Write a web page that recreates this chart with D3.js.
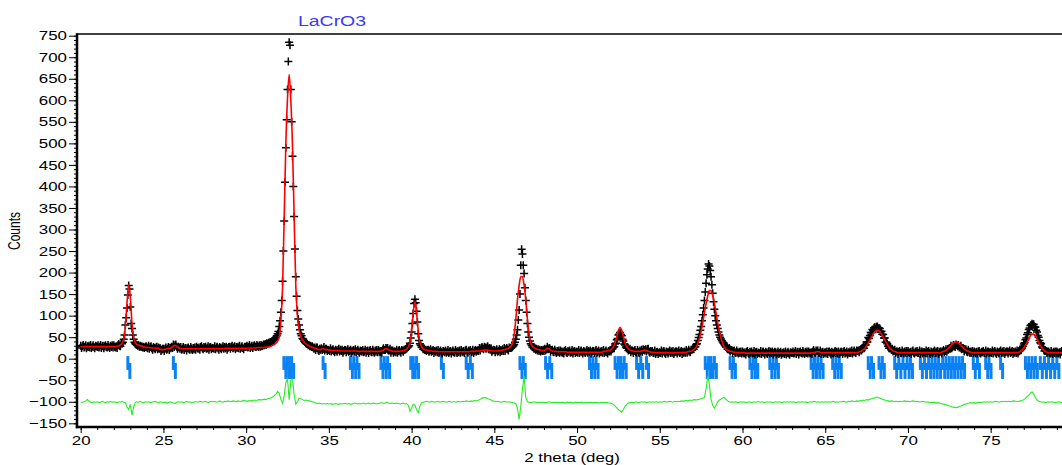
<!DOCTYPE html>
<html lang="en">
<head>
<meta charset="UTF-8">
<title>LaCrO3</title>
<script src="https://d3js.org/d3.v7.min.js"></script>
<style>
  body { margin: 0; background: #fff; }
  text { font-family: "Liberation Sans", Arial, sans-serif; fill: #000; }
</style>
</head>
<body>
<svg width="1062" height="465"></svg>
<script>
// observed counts, 2theta = 20.00 + 0.05*i  (one row = one degree)
const obsStart = 20, obsStep = 0.05;
const obsCounts = [
  30,25,29,32,26,28,31,24,29,27,30,26,32,25,28,31,27,24,30,29,
  27,31,26,28,32,25,29,30,24,29,31,27,26,32,28,25,30,27,31,26,
  31,28,26,29,25,31,34,30,29,36,35,38,45,55,78,95,118,148,170,162,
  120,82,70,55,45,38,35,33,32,30,31,28,30,27,29,26,28,25,27,29,
  26,24,30,23,27,29,24,21,27,25,22,26,28,22,26,23,25,18,21,23,
  23,18,23,26,21,23,27,20,25,24,28,25,33,27,31,33,28,23,28,26,
  23,27,21,23,27,20,24,25,19,24,26,22,21,27,23,20,25,22,26,21,
  28,25,23,26,21,27,29,24,22,27,25,28,23,24,29,21,26,27,22,25,
  25,23,29,22,26,28,24,21,27,25,22,26,29,23,27,24,28,21,25,27,
  28,23,27,30,24,26,29,22,27,25,28,24,30,23,26,29,25,22,28,27,
  28,30,26,27,32,25,28,30,25,29,31,28,27,32,29,27,31,28,32,29,
  30,33,31,34,32,36,34,37,36,39,38,40,41,43,44,47,50,53,58,63,
  75,88,108,135,180,250,320,410,490,555,625,690,735,728,625,550,470,400,330,255,
  190,145,112,92,78,67,58,53,47,45,41,39,36,35,34,31,32,29,30,27,
  29,26,23,26,20,26,26,21,18,23,21,24,20,22,27,19,23,23,18,21,
  20,18,24,17,20,22,18,15,21,19,16,20,23,17,21,18,21,14,18,20,
  20,15,19,22,16,18,21,14,19,17,20,16,22,15,18,21,17,14,19,18,
  16,20,15,17,21,14,18,19,13,18,20,16,15,21,17,14,19,16,20,15,
  20,17,15,18,14,21,24,20,20,25,23,25,19,19,23,14,19,19,14,17,
  17,15,21,14,18,20,17,14,20,19,16,21,21,22,24,26,28,30,36,48,
  62,82,105,128,138,130,110,85,58,42,35,31,27,26,22,23,20,21,18,20,
  21,16,19,22,16,18,20,13,18,16,19,15,20,13,16,19,15,12,18,17,
  15,19,14,16,20,13,17,18,12,17,19,15,14,20,16,13,18,15,19,14,
  20,17,15,18,13,19,21,16,14,19,17,20,15,16,21,13,18,20,16,19,
  19,18,25,19,24,27,24,22,28,26,23,26,29,22,25,21,24,16,19,21,
  20,15,19,22,16,18,22,15,20,18,22,18,25,18,22,25,22,19,26,25,
  25,26,28,30,33,38,45,55,67,90,113,150,217,254,243,217,198,165,135,108,
  82,62,50,41,35,31,27,26,23,24,21,23,19,22,18,21,17,20,18,21,
  18,23,19,22,28,22,24,24,16,20,21,16,15,21,17,13,18,15,19,14,
  19,16,14,17,12,18,20,15,13,18,16,19,14,15,20,12,17,18,13,16,
  16,14,20,13,17,19,15,12,18,16,13,17,20,14,18,15,19,12,16,18,
  18,13,17,20,14,16,19,12,17,15,18,14,20,13,16,19,15,12,18,17,
  19,17,22,23,27,28,34,36,44,47,55,57,61,56,53,45,41,34,32,27,
  24,26,19,20,23,15,19,19,13,18,20,15,14,20,16,13,19,16,21,16,
  22,20,19,22,17,22,23,17,14,18,16,18,13,14,19,11,15,16,11,14,
  15,13,19,12,16,18,14,11,17,15,12,16,19,13,17,14,18,11,15,17,
  17,12,16,19,13,15,18,11,16,14,17,14,20,14,17,21,17,15,21,21,
  23,22,27,28,33,35,42,49,56,66,75,88,102,118,135,155,175,195,208,220,
  215,205,190,172,152,132,115,100,88,78,70,62,55,50,46,42,39,36,33,30,
  27,29,22,22,25,17,20,20,13,18,19,15,13,19,15,12,16,13,17,12,
  17,14,12,15,10,16,18,13,11,16,14,17,12,13,18,10,15,16,11,14,
  14,12,18,11,15,17,13,10,16,14,11,15,18,12,16,13,17,10,14,16,
  15,10,14,17,11,13,16,9,14,12,15,11,17,10,13,16,12,9,15,14,
  13,17,12,14,18,11,15,16,10,15,17,13,12,18,14,11,16,13,17,12,
  17,14,12,15,11,17,20,15,14,19,17,19,14,14,19,11,15,16,11,14,
  15,12,17,11,16,17,14,10,16,13,12,15,18,13,16,12,17,11,14,16,
  16,11,15,18,12,14,17,10,15,13,17,13,19,12,16,19,15,13,19,18,
  19,15,19,22,19,23,28,24,31,32,39,39,49,47,54,61,61,68,66,72,
  73,69,74,75,69,71,70,62,64,57,56,48,48,38,38,35,29,24,27,24,
  20,23,17,18,21,13,17,17,11,16,18,14,13,19,15,12,17,14,18,13,
  18,15,13,16,11,17,19,14,12,17,15,18,13,14,19,11,16,17,12,15,
  15,13,19,12,16,18,14,11,17,15,12,16,19,13,17,14,18,11,15,17,
  17,12,17,20,15,18,22,16,22,21,25,23,30,24,28,32,29,27,33,32,
  29,32,26,27,30,22,24,24,17,21,22,17,15,21,16,13,17,14,18,13,
  17,15,12,16,12,17,18,14,12,16,15,18,14,13,19,12,16,17,13,15,
  15,13,19,12,16,18,14,11,17,15,12,16,19,13,17,14,18,11,15,17,
  17,12,16,19,13,15,18,11,16,14,17,13,19,12,17,18,20,22,25,29,
  34,37,44,48,56,60,68,71,77,78,81,79,80,75,73,66,62,54,50,42,
  37,35,27,25,24,18,19,18,13,16,17,14,12,18,14,11,16,13,17,12,
  17,14,12,15,10,16,18,13,11,16,14,17,12,13,18,10,15,16,11,14
];

// calculated profile, 2theta = 20.0 + 0.1*i
const calcStart = 20, calcStep = 0.1;
const calcCounts = [
  28,28,28,28,28,28,28,28,28,28,
  28,28,28,28,28,28,28,28,28,28,
  28,28,29,30,32,36,46,74,131,172,
  142,82,49,37,33,31,30,29,28,27,
  26,26,26,25,25,25,24,24,22,21,
  21,22,23,24,24,26,29,31,29,26,
  24,23,23,23,23,23,23,23,23,23,
  23,23,23,23,23,23,23,23,23,23,
  23,23,23,23,23,23,23,24,24,24,
  24,24,24,24,24,24,24,24,24,24,
  24,24,25,25,25,25,25,26,26,26,
  26,26,27,27,28,29,31,33,36,41,
  50,88,165,330,500,605,660,600,495,330,
  170,100,68,52,44,39,35,32,30,28,
  26,25,24,22,21,21,23,23,21,21,
  20,20,19,19,19,19,19,18,18,18,
  18,18,18,18,18,18,18,18,17,17,
  17,17,17,17,17,17,17,17,17,17,
  17,17,18,20,23,23,21,19,18,17,
  17,17,17,18,18,19,20,22,28,39,
  66,107,133,107,66,39,28,23,21,20,
  19,18,18,17,17,17,16,16,16,16,
  16,16,16,16,16,16,16,16,16,16,
  16,16,16,16,16,16,17,17,17,18,
  18,18,19,19,20,20,20,19,19,18,
  18,18,18,19,19,20,21,22,23,25,
  29,37,57,92,137,170,191,191,170,137,
  92,57,37,29,25,23,22,21,20,19,
  19,21,24,23,20,18,17,17,16,16,
  16,16,16,16,15,15,15,15,15,15,
  15,15,15,15,15,15,15,15,15,15,
  15,15,15,15,15,15,17,17,18,19,
  20,23,28,37,51,66,73,66,51,37,
  28,23,20,19,18,17,17,17,17,18,
  19,20,19,17,16,15,15,15,14,14,
  14,14,14,14,14,14,14,14,14,14,
  14,14,14,14,14,14,15,16,17,18,
  20,22,27,36,48,64,84,107,128,146,
  158,158,146,128,107,84,64,48,36,27,
  22,20,18,17,16,15,15,14,14,14,
  14,14,13,13,13,13,13,13,13,13,
  13,13,13,13,13,13,13,13,13,13,
  13,13,13,13,13,13,13,13,13,13,
  13,13,13,13,13,13,13,13,13,13,
  13,13,14,14,15,16,16,15,14,14,
  14,14,14,14,14,14,14,14,14,14,
  14,14,14,14,14,14,14,14,14,14,
  15,17,18,21,24,30,36,43,50,57,
  63,66,66,63,57,50,43,36,30,24,
  21,18,17,15,14,14,14,14,14,14,
  14,14,14,14,14,14,14,14,14,14,
  14,14,14,14,14,14,14,14,14,14,
  15,16,18,20,23,27,31,35,38,39,
  38,35,31,27,23,20,18,16,15,14,
  14,14,14,14,14,14,14,14,14,14,
  14,14,14,14,14,14,14,14,14,14,
  14,14,14,14,14,14,14,15,17,20,
  25,31,38,46,53,57,57,53,46,38,
  31,25,20,17,15,14,14,14,14,14,
  14,14,14,14,13,13,13,13,13,13
];

// difference curve as plotted (offset to -100), same grid as calcCounts
const diffCounts = [
  -101,-101,-100,-98,-95,-99,-101,-102,-100,-101,
  -100,-102,-101,-99,-101,-102,-100,-101,-99,-101,
  -100,-101,-102,-100,-101,-99,-101,-102,-112,-118,
  -106,-131,-112,-102,-100,-101,-99,-101,-102,-100,
  -101,-100,-102,-101,-100,-99,-101,-102,-100,-101,
  -102,-101,-103,-102,-100,-101,-103,-104,-101,-100,
  -101,-100,-102,-101,-99,-101,-100,-102,-101,-100,
  -100,-101,-99,-100,-101,-99,-100,-102,-100,-99,
  -100,-99,-101,-100,-98,-100,-101,-99,-100,-98,
  -99,-100,-98,-99,-100,-98,-99,-100,-97,-98,
  -98,-99,-97,-98,-97,-96,-97,-96,-95,-96,
  -95,-94,-95,-93,-92,-91,-89,-86,-82,-76,
  -80,-95,-104,-85,-55,-47,-95,-50,-48,-82,
  -106,-100,-92,-93,-95,-97,-96,-97,-98,-99,
  -100,-101,-103,-104,-103,-104,-105,-104,-105,-104,
  -105,-104,-106,-105,-104,-105,-106,-104,-105,-104,
  -104,-105,-104,-106,-105,-104,-103,-105,-104,-105,
  -104,-103,-105,-104,-103,-105,-104,-103,-104,-105,
  -104,-103,-102,-104,-103,-101,-103,-104,-103,-104,
  -104,-103,-104,-105,-104,-103,-105,-104,-108,-122,
  -115,-106,-108,-118,-126,-110,-102,-101,-100,-99,
  -100,-101,-99,-100,-101,-100,-99,-101,-100,-99,
  -100,-101,-100,-99,-101,-100,-100,-101,-99,-100,
  -100,-99,-100,-98,-99,-100,-98,-99,-97,-98,
  -97,-95,-93,-91,-90,-91,-93,-94,-96,-98,
  -99,-100,-99,-100,-101,-100,-99,-100,-101,-100,
  -101,-102,-103,-105,-115,-141,-110,-70,-40,-90,
  -100,-101,-102,-101,-100,-101,-102,-101,-102,-101,
  -102,-101,-102,-100,-101,-102,-101,-102,-101,-102,
  -102,-101,-102,-103,-101,-102,-101,-102,-103,-101,
  -102,-101,-102,-101,-103,-102,-101,-102,-101,-102,
  -102,-101,-102,-103,-102,-101,-102,-101,-102,-103,
  -103,-104,-106,-110,-114,-118,-121,-124,-118,-111,
  -106,-103,-102,-101,-102,-101,-100,-102,-101,-100,
  -101,-100,-102,-101,-100,-101,-100,-101,-100,-101,
  -100,-101,-100,-99,-101,-100,-99,-100,-101,-99,
  -100,-99,-100,-98,-99,-98,-97,-98,-96,-97,
  -96,-95,-96,-95,-94,-93,-92,-90,-70,-40,
  -60,-95,-108,-115,-108,-100,-96,-94,-91,-90,
  -94,-98,-100,-101,-100,-101,-100,-102,-101,-100,
  -101,-100,-102,-101,-100,-101,-102,-100,-101,-100,
  -100,-101,-100,-102,-101,-100,-101,-100,-102,-101,
  -100,-101,-100,-101,-102,-100,-101,-100,-101,-100,
  -101,-100,-102,-101,-100,-101,-100,-101,-100,-102,
  -101,-100,-101,-99,-100,-101,-100,-101,-100,-101,
  -100,-101,-100,-101,-100,-99,-101,-100,-101,-100,
  -100,-99,-100,-101,-99,-100,-98,-99,-100,-98,
  -99,-97,-98,-96,-97,-95,-96,-94,-93,-92,
  -91,-89,-90,-92,-93,-95,-96,-97,-98,-99,
  -98,-99,-100,-99,-100,-99,-100,-99,-98,-99,
  -99,-100,-99,-98,-99,-100,-99,-101,-100,-99,
  -100,-101,-100,-102,-101,-102,-101,-103,-102,-103,
  -104,-105,-106,-107,-108,-110,-111,-112,-113,-114,
  -113,-111,-110,-108,-106,-105,-104,-103,-102,-103,
  -102,-103,-102,-101,-102,-101,-100,-101,-100,-101,
  -100,-101,-100,-99,-100,-101,-100,-99,-100,-99,
  -100,-99,-100,-99,-98,-99,-100,-99,-98,-97,
  -95,-92,-88,-85,-80,-77,-82,-90,-96,-99,
  -100,-101,-100,-102,-101,-100,-101,-100,-101,-102,
  -101,-100,-101,-102,-100,-101,-100,-101,-102,-101
];

// Bragg reflection positions (2theta)
const braggPeaks = [
  22.85, 25.6, 32.28, 32.45, 32.6, 32.75, 34.65, 36.3, 36.5, 36.7,
  38.15, 38.35, 38.55, 39.95, 40.1, 40.3, 41.8, 43.3, 43.55, 46.55,
  46.75, 48.1, 48.35, 50.75, 50.95, 51.15, 52.3, 52.5, 52.65, 52.85,
  53.6, 53.85, 54.2, 57.75, 57.95, 58.1, 58.3, 59.25, 59.45, 60.45,
  60.65, 60.8, 61.65, 61.85, 62.05, 64.15, 64.35, 64.55, 64.75, 65.45,
  65.65, 65.85, 67.6, 67.8, 68.25, 68.45, 69.2, 69.45, 69.7, 69.95,
  70.15, 70.75, 71.0, 71.25, 71.45, 71.65, 71.85, 72.1, 72.3, 72.5,
  72.7, 72.9, 73.1, 73.3, 73.95, 74.2, 74.7, 74.9, 75.6, 77.1,
  77.3, 77.5, 77.7, 78.0, 78.25, 78.5, 78.75, 79.0
];

const yTickLabels = [-150, -100, -50, 0, 50, 100, 150, 200, 250, 300, 350, 400, 450, 500, 550, 600, 650, 700, 750];
const xTickLabels = [20, 25, 30, 35, 40, 45, 50, 55, 60, 65, 70, 75];

const svg = d3.select("svg");
const W = 1062;
const plotLeft = 77, plotTop = 34, plotBottom = 427;
const stretch = 1.3; // text in the original is drawn wide

const x = d3.scaleLinear().domain([20, 80]).range([80.7, 1073.4]);
const y = d3.scaleLinear().domain([0, 750]).range([358.7, 35.7]);

svg.append("defs").append("clipPath").attr("id", "plot")
  .append("rect").attr("x", plotLeft + 1).attr("y", plotTop)
  .attr("width", W - plotLeft).attr("height", plotBottom - plotTop - 1);

const plot = svg.append("g").attr("clip-path", "url(#plot)");

// bragg ticks: upper and lower piece of each reflection
const bragg = plot.append("g").attr("fill", "#0a82f5");
bragg.selectAll("rect.up").data(braggPeaks).join("rect").attr("class", "up")
  .attr("x", d => x(d) - 1.5).attr("width", 3)
  .attr("y", y(6)).attr("height", y(-26) - y(6));
bragg.selectAll("rect.lo").data(braggPeaks).join("rect").attr("class", "lo")
  .attr("x", d => x(d) + 0.5).attr("width", 3)
  .attr("y", y(-10)).attr("height", y(-47) - y(-10));

// difference
plot.append("path")
  .datum(diffCounts)
  .attr("fill", "none").attr("stroke", "#22ee22").attr("stroke-width", 1.1)
  .attr("d", d3.line().x((d, i) => x(calcStart + i * calcStep)).y(d => y(d)));

// observed "+" markers
plot.append("g").attr("stroke", "#000").attr("stroke-width", 1.5)
  .selectAll("path").data(obsCounts).join("path")
  .attr("d", (d, i) => {
    const px = x(obsStart + i * obsStep), py = y(d);
    return `M${px - 4},${py}h8M${px},${py - 4}v8`;
  });

// calculated
plot.append("path")
  .datum(calcCounts)
  .attr("fill", "none").attr("stroke", "#ff0000").attr("stroke-width", 1.6)
  .attr("d", d3.line().x((d, i) => x(calcStart + i * calcStep)).y(d => y(d)).curve(d3.curveMonotoneX));

// y axis
const ya = svg.append("g").attr("transform", `translate(${plotLeft},0)`);
ya.call(d3.axisLeft(y).tickValues(d3.range(-150, 751, 10)).tickSize(3).tickFormat(""));
ya.select(".domain").remove();
const yMaj = svg.append("g").attr("transform", `translate(${plotLeft},0)`)
  .call(d3.axisLeft(y).tickValues(yTickLabels).tickSize(8).tickPadding(0));
yMaj.select(".domain").remove();
yMaj.selectAll("text").attr("x", -10 / stretch).attr("font-size", 13)
  .attr("font-family", "Liberation Sans, Arial, sans-serif")
  .attr("transform", `scale(${stretch},1)`);

// x axis
const xa = svg.append("g").attr("transform", `translate(0,${plotBottom})`);
xa.call(d3.axisBottom(x).tickValues(d3.range(20, 81, 1)).tickSize(3).tickFormat(""));
xa.select(".domain").remove();
const xMaj = svg.append("g").attr("transform", `translate(0,${plotBottom})`)
  .call(d3.axisBottom(x).tickValues(xTickLabels).tickSize(6).tickPadding(3));
xMaj.select(".domain").remove();
xMaj.selectAll("text").attr("font-size", 13)
  .attr("font-family", "Liberation Sans, Arial, sans-serif")
  .attr("transform", `scale(${stretch},1)`);

// frame lines
svg.append("line").attr("x1", plotLeft).attr("x2", W).attr("y1", plotTop).attr("y2", plotTop)
  .attr("stroke", "#000").attr("stroke-width", 1.5);
svg.append("line").attr("x1", plotLeft).attr("x2", plotLeft).attr("y1", plotTop - 0.75).attr("y2", plotBottom + 1.25)
  .attr("stroke", "#000").attr("stroke-width", 2.5);
svg.append("line").attr("x1", plotLeft - 1.25).attr("x2", W).attr("y1", plotBottom).attr("y2", plotBottom)
  .attr("stroke", "#000").attr("stroke-width", 2.5);

// labels
svg.append("text").text("LaCrO3")
  .attr("transform", `translate(332,26) scale(${stretch},1)`)
  .attr("text-anchor", "middle").attr("font-size", 15).style("fill", "#3a3af5");
svg.append("text").text("Counts")
  .attr("transform", `translate(20,231) scale(${stretch},1) rotate(-90)`)
  .attr("text-anchor", "middle").attr("font-size", 12);
svg.append("text").text("2 theta (deg)")
  .attr("transform", `translate(572,462) scale(${stretch},1)`)
  .attr("text-anchor", "middle").attr("font-size", 13);
</script>
</body>
</html>
